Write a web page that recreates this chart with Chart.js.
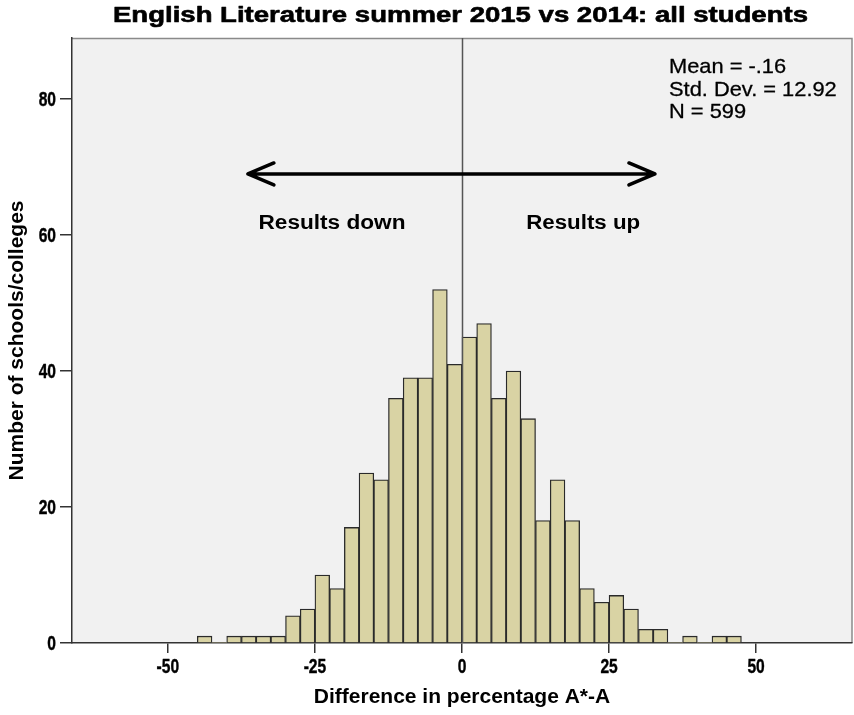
<!DOCTYPE html>
<html>
<head>
<meta charset="utf-8">
<script src="https://cdn.jsdelivr.net/npm/chart.js@4/dist/chart.umd.min.js"></script>
<style>
  html, body { margin: 0; padding: 0; background: #ffffff; }
  #wrap { width: 854px; height: 715px; position: relative; }
</style>
</head>
<body>
<div id="wrap"><canvas id="c" width="854" height="715"></canvas></div>
<script>
// Bin lower edges (width 2.5) and counts
const binStarts = [-45, -42.5, -40, -37.5, -35, -32.5, -30, -27.5, -25, -22.5, -20, -17.5, -15, -12.5, -10, -7.5, -5, -2.5,
                   0, 2.5, 5, 7.5, 10, 12.5, 15, 17.5, 20, 22.5, 25, 27.5, 30, 32.5, 35, 37.5, 40, 42.5, 45];
const counts    = [1, 0, 1, 1, 1, 1, 4, 5, 10, 8, 17, 25, 24, 36, 39, 39, 52, 41,
                   45, 47, 36, 40, 33, 18, 24, 18, 8, 6, 7, 5, 2, 2, 0, 1, 0, 1, 1];
const binWidth = 2.5;
const xTicks = [-50, -25, 0, 25, 50];
const yTicks = [0, 20, 40, 60, 80];
const titleText = 'English Literature summer 2015 vs 2014: all students';
const xTitle = 'Difference in percentage A*-A';
const yTitle = 'Number of schools/colleges';
const statsLines = ['Mean = -.16', 'Std. Dev. = 12.92', 'N = 599'];
const arrowFrom = -36.4, arrowTo = 32.8, arrowY = 69;
const labelDown = { text: 'Results down', x: -22.1, y: 62 };
const labelUp = { text: 'Results up', x: 20.6, y: 62 };

const FONT = '"Liberation Sans", Arial, sans-serif';

const dataPts = binStarts.map((s, i) => ({ x: s + binWidth / 2, y: counts[i] }));

function drawScaled(ctx, text, x, y, font, sx, align, strokeW) {
  ctx.save();
  ctx.font = font;
  ctx.textBaseline = 'alphabetic';
  ctx.textAlign = 'left';
  const w = ctx.measureText(text).width * sx;
  let left = x;
  if (align === 'center') left = x - w / 2;
  else if (align === 'right') left = x - w;
  ctx.translate(left, y);
  ctx.scale(sx, 1);
  ctx.fillText(text, 0, 0);
  if (strokeW) {
    ctx.strokeStyle = ctx.fillStyle;
    ctx.lineWidth = strokeW;
    ctx.lineJoin = 'round';
    ctx.strokeText(text, 0, 0);
  }
  ctx.restore();
}
function fitWidth(ctx, text, font, target) {
  ctx.save(); ctx.font = font;
  const w = ctx.measureText(text).width;
  ctx.restore();
  return target / w;
}

const bgPlugin = {
  id: 'bg',
  beforeDraw(chart) {
    const { ctx, chartArea: a } = chart;
    ctx.save();
    ctx.fillStyle = '#f1f1f1';
    ctx.fillRect(a.left, a.top, a.right - a.left, a.bottom - a.top);
    ctx.strokeStyle = '#8a8a8a';
    ctx.lineWidth = 1.5;
    ctx.beginPath();
    ctx.moveTo(a.left, a.top + 0.5);
    ctx.lineTo(a.right, a.top + 0.5);
    ctx.lineTo(a.right, a.bottom);
    ctx.stroke();
    ctx.restore();
  },
  afterDatasetsDraw(chart) {
    const { ctx, chartArea: a, scales: { x, y } } = chart;
    ctx.save();
    // zero line
    const x0 = Math.round(x.getPixelForValue(0)) + 0.5;
    ctx.strokeStyle = '#555555';
    ctx.lineWidth = 1.5;
    ctx.beginPath();
    ctx.moveTo(x0, a.top);
    ctx.lineTo(x0, a.bottom);
    ctx.stroke();
    // arrow
    const ay = y.getPixelForValue(arrowY);
    const ax1 = x.getPixelForValue(arrowFrom);
    const ax2 = x.getPixelForValue(arrowTo);
    ctx.strokeStyle = '#000';
    ctx.lineWidth = 3.5;
    ctx.lineCap = 'round';
    ctx.lineJoin = 'round';
    ctx.beginPath();
    ctx.moveTo(ax1, ay); ctx.lineTo(ax2, ay);
    ctx.moveTo(ax1 + 26, ay - 11); ctx.lineTo(ax1, ay); ctx.lineTo(ax1 + 26, ay + 11);
    ctx.moveTo(ax2 - 26, ay - 11); ctx.lineTo(ax2, ay); ctx.lineTo(ax2 - 26, ay + 11);
    ctx.stroke();
    ctx.fillStyle = '#000';
    // labels
    const lf = 'bold 20px ' + FONT;
    drawScaled(ctx, labelDown.text, x.getPixelForValue(labelDown.x), y.getPixelForValue(labelDown.y) + 7, lf, fitWidth(ctx, labelDown.text, lf, 147), 'center');
    drawScaled(ctx, labelUp.text, x.getPixelForValue(labelUp.x), y.getPixelForValue(labelUp.y) + 7, lf, fitWidth(ctx, labelUp.text, lf, 114), 'center');
    // stats
    const sf = '21px ' + FONT;
    statsLines.forEach((s, i) => drawScaled(ctx, s, a.right - 183, a.top + 35 + i * 22.5, sf, 1.04, 'left', 0.3));
    ctx.restore();
  },
  afterDraw(chart) {
    const { ctx, chartArea: a, scales: { x, y } } = chart;
    ctx.save();
    ctx.fillStyle = '#000';
    // title
    const tf = 'bold 22px ' + FONT;
    drawScaled(ctx, titleText, 460.5, 22, tf, fitWidth(ctx, titleText, tf, 695), 'center', 0.6);
    // tick labels
    const kf = 'bold 20px ' + FONT;
    x.ticks.forEach(t => drawScaled(ctx, String(t.value), x.getPixelForValue(t.value), a.bottom + 30, kf, 0.78, 'center', 0.4));
    y.ticks.forEach(t => drawScaled(ctx, String(t.value), a.left - 16, y.getPixelForValue(t.value) + 7, kf, 0.78, 'right', 0.4));
    ctx.restore();
  }
};

new Chart(document.getElementById('c'), {
  type: 'bar',
  data: {
    datasets: [{
      data: dataPts,
      backgroundColor: '#d9d3a4',
      borderColor: '#2a2a2a',
      borderWidth: (c) => (c.raw && c.raw.y > 0 ? 1.3 : 0),
      borderSkipped: 'start',
      barPercentage: 1,
      categoryPercentage: 1
    }]
  },
  options: {
    responsive: false,
    animation: false,
    layout: { padding: { left: 0, right: 2, top: 38, bottom: 0 } },
    plugins: {
      legend: { display: false },
      tooltip: { enabled: false },
      title: { display: false }
    },
    scales: {
      x: {
        type: 'linear',
        offset: false,
        min: -66.3,
        max: 66.3,
        afterBuildTicks: (s) => { s.ticks = xTicks.map(v => ({ value: v })); },
        afterFit: (s) => { s.height = 72; },
        ticks: { display: false },
        grid: { display: true, offset: false, drawOnChartArea: false, drawTicks: true, tickLength: 10, color: '#333', lineWidth: 1.5 },
        border: { display: true, color: '#333', width: 1.5 },
        title: { display: true, text: xTitle, color: '#000', font: { family: FONT, size: 21, weight: 'bold' }, padding: { top: 0, bottom: 5 } }
      },
      y: {
        min: 0,
        max: 89,
        afterBuildTicks: (s) => { s.ticks = yTicks.map(v => ({ value: v })); },
        afterFit: (s) => { s.width = 72; },
        ticks: { display: false },
        grid: { display: true, offset: false, drawOnChartArea: false, drawTicks: true, tickLength: 12, color: '#333', lineWidth: 1.5 },
        border: { display: true, color: '#333', width: 1.5 },
        title: { display: true, text: yTitle, color: '#000', font: { family: FONT, size: 21, weight: 'bold' }, padding: { top: 5, bottom: 0 } }
      }
    }
  },
  plugins: [bgPlugin]
});
</script>
</body>
</html>
